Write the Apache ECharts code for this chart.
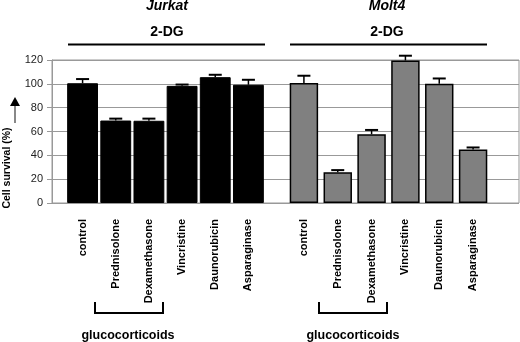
<!DOCTYPE html>
<html>
<head>
<meta charset="utf-8">
<script src="https://cdn.jsdelivr.net/npm/echarts@6/dist/echarts.min.js"></script>
<style>
  html, body { margin: 0; padding: 0; background: #fff; }
  #chart { width: 520px; height: 342px; }
</style>
</head>
<body>
<div id="chart"></div>
<script>
// 数据
const drugs = ['control', 'Prednisolone', 'Dexamethasone', 'Vincristine', 'Daunorubicin', 'Asparaginase'];
const jurkatValues = [100.5, 69.2, 69, 98.3, 105.6, 99.2];
const jurkatErrors = [3.5, 1.6, 1.8, 1.1, 2, 4.2];
const molt4Values = [100.6, 25.8, 57.7, 119.6, 100, 44.8];
const molt4Errors = [6.2, 1.8, 3.6, 4, 4.5, 1.8];
const yMin = 0, yMax = 120, yStep = 20;

const font = '"Liberation Sans", Arial, sans-serif';

// 误差线: stem from top of bar up to a short cap
function renderError(params, api) {
  const base = api.coord([api.value(0), api.value(1)]);
  const top = api.coord([api.value(0), api.value(1) + api.value(2)]);
  return {
    type: 'group',
    children: [
      { type: 'line', shape: { x1: base[0], y1: base[1], x2: top[0], y2: top[1] }, style: { stroke: '#000', lineWidth: 1.5 } },
      { type: 'line', shape: { x1: top[0] - 6.5, y1: top[1], x2: top[0] + 6.5, y2: top[1] }, style: { stroke: '#000', lineWidth: 2 } }
    ]
  };
}

function errData(vals, errs) {
  return vals.map((v, i) => [i, v, errs[i]]);
}

function drugAxis(gridIndex) {
  return {
    type: 'category',
    gridIndex: gridIndex,
    data: drugs,
    axisLine: { show: false },
    axisTick: { show: false },
    axisLabel: {
      rotate: 90,
      margin: 16,
      interval: 0,
      color: '#000',
      fontFamily: font,
      fontWeight: 'bold',
      fontSize: 11
    }
  };
}

function hiddenY(gridIndex) {
  return { type: 'value', gridIndex: gridIndex, min: yMin, max: yMax, show: false };
}

const chart = echarts.init(document.getElementById('chart'));

const option = {
  animation: false,
  backgroundColor: '#fff',
  grid: [
    // 背景网格 + y轴
    { left: 52, right: 1, top: 60, bottom: 139, show: true, borderColor: '#999', borderWidth: 1 },
    // Jurkat
    { left: 66, width: 199, top: 60, bottom: 139 },
    // Molt4
    { left: 287, width: 203, top: 60, bottom: 139 }
  ],
  xAxis: [
    { type: 'value', gridIndex: 0, min: 0, max: 1, show: false },
    drugAxis(1),
    drugAxis(2)
  ],
  yAxis: [
    {
      type: 'value',
      gridIndex: 0,
      min: yMin,
      max: yMax,
      interval: yStep,
      axisLine: { show: true, lineStyle: { color: '#999' } },
      axisTick: { show: true, length: 5, lineStyle: { color: '#999' } },
      axisLabel: { margin: 9, color: '#222', fontFamily: font, fontSize: 11 },
      splitLine: { show: true, lineStyle: { color: '#999', width: 1 } }
    },
    hiddenY(1),
    hiddenY(2)
  ],
  series: [
    {
      type: 'bar',
      xAxisIndex: 1,
      yAxisIndex: 1,
      data: jurkatValues,
      barCategoryGap: '7%',
      itemStyle: { color: '#000', borderColor: '#000', borderWidth: 1 }
    },
    {
      type: 'bar',
      xAxisIndex: 2,
      yAxisIndex: 2,
      data: molt4Values,
      barCategoryGap: '16%',
      itemStyle: { color: '#808080', borderColor: '#000', borderWidth: 1.5 }
    },
    {
      type: 'custom',
      xAxisIndex: 1,
      yAxisIndex: 1,
      renderItem: renderError,
      encode: { x: 0, y: 1 },
      data: errData(jurkatValues, jurkatErrors),
      z: 5
    },
    {
      type: 'custom',
      xAxisIndex: 2,
      yAxisIndex: 2,
      renderItem: renderError,
      encode: { x: 0, y: 1 },
      data: errData(molt4Values, molt4Errors),
      z: 5
    }
  ],
  graphic: [
    // 标题
    { type: 'text', style: { text: 'Jurkat', x: 167, y: 6, align: 'center', verticalAlign: 'middle', font: 'italic bold 14px ' + font, fill: '#000' } },
    { type: 'text', style: { text: 'Molt4', x: 387, y: 6, align: 'center', verticalAlign: 'middle', font: 'italic bold 14px ' + font, fill: '#000' } },
    { type: 'text', style: { text: '2-DG', x: 167, y: 32, align: 'center', verticalAlign: 'middle', font: 'bold 14px ' + font, fill: '#000' } },
    { type: 'text', style: { text: '2-DG', x: 387, y: 32, align: 'center', verticalAlign: 'middle', font: 'bold 14px ' + font, fill: '#000' } },
    { type: 'line', shape: { x1: 68, y1: 44.5, x2: 265, y2: 44.5 }, style: { stroke: '#000', lineWidth: 2.2 } },
    { type: 'line', shape: { x1: 290, y1: 44.5, x2: 487, y2: 44.5 }, style: { stroke: '#000', lineWidth: 2.2 } },
    // y轴名称和箭头
    { type: 'text', x: 7, y: 168, rotation: Math.PI / 2, style: { text: 'Cell survival (%)', x: 0, y: 0, align: 'center', verticalAlign: 'middle', font: 'bold 10.5px ' + font, fill: '#000' } },
    { type: 'line', shape: { x1: 15, y1: 104, x2: 15, y2: 123 }, style: { stroke: '#888', lineWidth: 2 } },
    { type: 'polygon', shape: { points: [[15, 97], [10, 106], [20, 106]] }, style: { fill: '#000' } },
    // glucocorticoids 括号
    { type: 'polyline', shape: { points: [[95, 302], [95, 313], [163, 313], [163, 302]] }, style: { stroke: '#000', lineWidth: 2, fill: null } },
    { type: 'polyline', shape: { points: [[319, 302], [319, 313], [387, 313], [387, 302]] }, style: { stroke: '#000', lineWidth: 2, fill: null } },
    { type: 'text', style: { text: 'glucocorticoids', x: 128, y: 336, align: 'center', verticalAlign: 'middle', font: 'bold 12.5px ' + font, fill: '#000' } },
    { type: 'text', style: { text: 'glucocorticoids', x: 353, y: 336, align: 'center', verticalAlign: 'middle', font: 'bold 12.5px ' + font, fill: '#000' } }
  ]
};

chart.setOption(option);
</script>
</body>
</html>
